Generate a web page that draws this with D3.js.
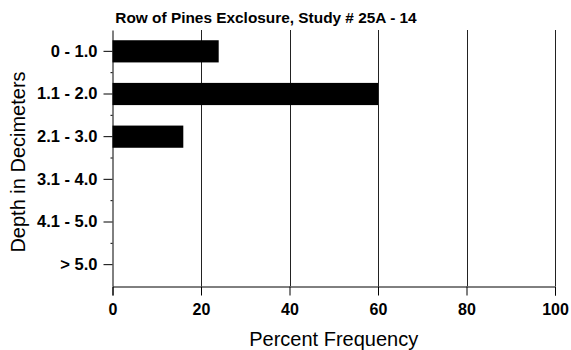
<!DOCTYPE html>
<html><head><meta charset="utf-8">
<script src="https://cdn.jsdelivr.net/npm/d3@7"></script>
<style>body{margin:0;background:#fff}svg{display:block;font-family:"Liberation Sans",Arial,sans-serif}</style>
</head><body>
<svg id="c" width="571" height="350"></svg>
<script>
const categories = ["0 - 1.0","1.1 - 2.0","2.1 - 3.0","3.1 - 4.0","4.1 - 5.0","> 5.0"];
const values = [24, 60, 16, 0, 0, 0];
const xTicks = [0, 20, 40, 60, 80, 100];
const title = "Row of Pines Exclosure, Study # 25A - 14";
const xTitle = "Percent Frequency";
const yTitle = "Depth in Decimeters";

const svg = d3.select("#c");
const L = 112.5, R = 555, T = 30, B = 286;
const x = d3.scaleLinear().domain([0, 100]).range([L, R]);
const y = d3.scaleBand().domain(categories).range([T, B]).paddingInner(0.48).paddingOuter(0.24);

// gridlines
svg.append("g").selectAll("line").data(xTicks.slice(1)).join("line")
  .attr("x1", d => Math.round(x(d)) + 0.5).attr("x2", d => Math.round(x(d)) + 0.5)
  .attr("y1", T).attr("y2", B).attr("stroke", "#222").attr("stroke-width", 1);

// bars
svg.append("g").selectAll("rect").data(values).join("rect")
  .attr("x", x(0)).attr("y", (d, i) => y(categories[i]))
  .attr("width", d => x(d) - x(0)).attr("height", y.bandwidth()).attr("fill", "#000");

// x axis
const xa = svg.append("g").attr("transform", `translate(0,${B + 0.5})`)
  .call(d3.axisBottom(x).tickValues(xTicks).tickSize(9).tickPadding(8).tickFormat(d3.format("d")));
xa.select(".domain").attr("stroke", "#000");
xa.selectAll(".tick line").attr("stroke", "#000");
xa.selectAll("text").attr("font-size", 16).attr("font-weight", "bold").attr("fill", "#000")
  .attr("font-family", "Liberation Sans, Arial, sans-serif");

// y axis
const ya = svg.append("g").attr("transform", `translate(${L},0)`)
  .call(d3.axisLeft(y).tickSize(9).tickPadding(6).tickSizeOuter(0));
ya.select(".domain").attr("stroke", "#000");
ya.selectAll(".tick line").attr("stroke", "#000");
ya.selectAll("text").attr("font-size", 16.5).attr("font-weight", "bold").attr("fill", "#000")
  .attr("font-family", "Liberation Sans, Arial, sans-serif");

// minor ticks at band boundaries
const step = y.step();
const bounds = d3.range(1, categories.length).map(i => y(categories[i]) - (step - y.bandwidth()) / 2);
svg.append("g").selectAll("line").data(bounds).join("line")
  .attr("x1", L - 2).attr("x2", L).attr("y1", d => d).attr("y2", d => d)
  .attr("stroke", "#000").attr("stroke-width", 1);

// titles
svg.append("text").attr("x", 266).attr("y", 23).attr("text-anchor", "middle")
  .attr("font-size", 15.4).attr("font-weight", "bold").text(title);
svg.append("text").attr("x", (L + R) / 2).attr("y", 346).attr("text-anchor", "middle")
  .attr("font-size", 20).text(xTitle);
svg.append("text").attr("transform", "translate(25,162) rotate(-90)").attr("text-anchor", "middle")
  .attr("font-size", 20).text(yTitle);
</script>
</body></html>
